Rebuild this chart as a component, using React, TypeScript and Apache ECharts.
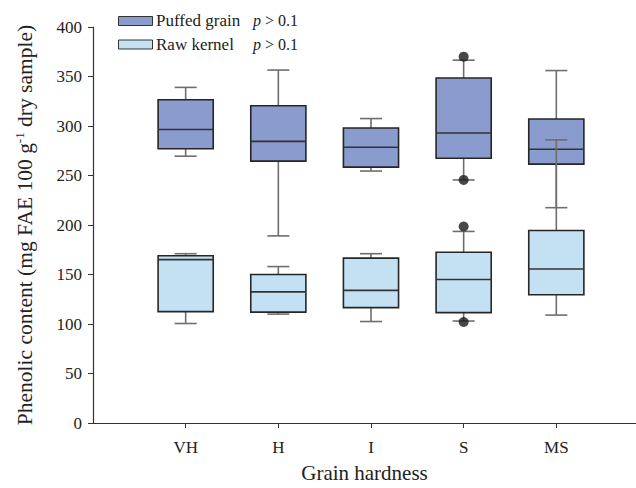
import React, { useEffect, useRef } from "react";
import * as echarts from "echarts";

// ---- data ----
const categories = ["VH", "H", "I", "S", "MS"];
const seriesNames = ["Puffed grain", "Raw kernel"];
const pValues = ["> 0.1", "> 0.1"];
// [lowerWhisker, Q1, median, Q3, upperWhisker]
const puffedStats = [
  [269.5, 277, 296.5, 326.5, 339],
  [189, 264.5, 284.5, 320.5, 356.5],
  [254.5, 258.5, 278.5, 298, 307.5],
  [245.5, 267.5, 293, 348.5, 366.5],
  [217.5, 261.5, 276.5, 307, 356],
];
const rawStats = [
  [100.5, 112.5, 165, 169, 171],
  [110, 112, 132.5, 150, 158],
  [102.5, 116.5, 134, 166.5, 171],
  [103, 111.5, 145, 172.5, 193.5],
  [109, 129.5, 155.5, 194.5, 286],
];
// outliers: [categoryIndex, value]
const outliers = [
  [3, 370],
  [3, 245.5],
  [3, 198.5],
  [3, 102],
];
const yTicks = { min: 0, max: 400, interval: 50 };

const FONT = "Liberation Serif";
const PUFFED_FILL = "#8a9bce";
const RAW_FILL = "#c4e1f3";
const BOX_W = 0.595;

function boxRenderer() {
  return (params: any, api: any) => {
    const xv = api.value(0);
    const lw = api.value(1);
    const q1 = api.value(2);
    const med = api.value(3);
    const q3 = api.value(4);
    const uw = api.value(5);
    const cx = api.coord([xv, 0])[0];
    const yOf = (v: number) => api.coord([xv, v])[1];
    const half = api.size([BOX_W, 0])[0] / 2;
    const cap = half * 0.4;
    const fill = api.visual("color");
    const wStyle = { stroke: "#6e6e6e", lineWidth: 1.6 };
    const bStyle = { stroke: "#262626", lineWidth: 1.6 };
    return {
      type: "group",
      children: [
        { type: "line", shape: { x1: cx, y1: yOf(q3), x2: cx, y2: yOf(uw) }, style: wStyle },
        { type: "line", shape: { x1: cx, y1: yOf(q1), x2: cx, y2: yOf(lw) }, style: wStyle },
        { type: "line", shape: { x1: cx - cap, y1: yOf(uw), x2: cx + cap, y2: yOf(uw) }, style: wStyle },
        { type: "line", shape: { x1: cx - cap, y1: yOf(lw), x2: cx + cap, y2: yOf(lw) }, style: wStyle },
        {
          type: "rect",
          shape: { x: cx - half, y: yOf(q3), width: half * 2, height: yOf(q1) - yOf(q3) },
          style: { fill, ...bStyle },
        },
        { type: "line", shape: { x1: cx - half, y1: yOf(med), x2: cx + half, y2: yOf(med) }, style: { stroke: "#333", lineWidth: 1.6 } },
      ],
    };
  };
}

export default function App() {
  const ref = useRef<HTMLDivElement>(null);
  useEffect(() => {
    document.body.style.margin = "0";
    const chart = echarts.init(ref.current!, null, { renderer: "svg" });
    const toData = (stats: number[][]) => stats.map((s, i) => [i + 1, ...s]);
    const legendY = [20.5, 44];
    const fills = [PUFFED_FILL, RAW_FILL];
    const graphic: any[] = [];
    seriesNames.forEach((name, i) => {
      graphic.push({
        type: "rect",
        left: 118,
        top: legendY[i] - 4.5,
        shape: { x: 0, y: 0, width: 34, height: 9 },
        style: { fill: fills[i], stroke: "#333", lineWidth: 1 },
      });
      graphic.push({
        type: "text",
        x: 156,
        y: legendY[i],
        style: { text: name, fontFamily: FONT, fontSize: 17, fill: "#222", verticalAlign: "middle" },
      });
      graphic.push({
        type: "text",
        x: 253,
        y: legendY[i],
        style: {
          text: `{i|p} {t|${pValues[i]}}`,
          fontFamily: FONT,
          fontSize: 16,
          fill: "#222",
          verticalAlign: "middle",
          rich: {
            i: { fontStyle: "italic", fontFamily: FONT, fontSize: 16, fill: "#222" },
            t: { fontFamily: FONT, fontSize: 16, fill: "#222" },
          },
        },
      });
    });
    chart.setOption({
      animation: false,
      textStyle: { fontFamily: FONT },
      grid: { left: 93, right: 0, top: 27, bottom: 61 },
      xAxis: {
        type: "value",
        min: 0,
        max: 5.86,
        splitLine: { show: false },
        axisLine: { show: true, lineStyle: { color: "#333", width: 1.2 } },
        axisTick: { show: true, customValues: [1, 2, 3, 4, 5], length: 5, lineStyle: { color: "#333" } },
        axisLabel: {
          customValues: [1, 2, 3, 4, 5],
          formatter: (v: number) => categories[Math.round(v) - 1] ?? "",
          fontFamily: FONT,
          fontSize: 17,
          color: "#222",
          margin: 16,
        },
        name: "Grain hardness",
        nameLocation: "middle",
        nameGap: 39,
        nameTextStyle: { fontFamily: FONT, fontSize: 21, color: "#222" },
      },
      yAxis: {
        type: "value",
        min: yTicks.min,
        max: yTicks.max,
        interval: yTicks.interval,
        splitLine: { show: false },
        axisLine: { show: true, lineStyle: { color: "#333", width: 1.2 } },
        axisTick: { show: true, length: 5, lineStyle: { color: "#333" } },
        axisLabel: { fontFamily: FONT, fontSize: 17, color: "#222", margin: 11 },
        name: "{n|Phenolic content (mg FAE 100 g}{s|-1}{n| dry sample)}",
        nameLocation: "middle",
        nameGap: 56,
        nameTextStyle: {
          fontFamily: FONT,
          fontSize: 21,
          color: "#222",
          rich: {
            n: { fontFamily: FONT, fontSize: 21.5, color: "#222", lineHeight: 24 },
            s: { fontFamily: FONT, fontSize: 13, color: "#222", lineHeight: 14, verticalAlign: "top" },
          },
        },
      },
      graphic,
      series: [
        {
          name: seriesNames[0],
          type: "custom",
          renderItem: boxRenderer(),
          itemStyle: { color: PUFFED_FILL },
          encode: { x: 0, y: [1, 2, 3, 4, 5] },
          data: toData(puffedStats),
          z: 2,
        },
        {
          name: seriesNames[1],
          type: "custom",
          renderItem: boxRenderer(),
          itemStyle: { color: RAW_FILL },
          encode: { x: 0, y: [1, 2, 3, 4, 5] },
          data: toData(rawStats),
          z: 3,
        },
        {
          name: "outliers",
          type: "scatter",
          symbol: "circle",
          symbolSize: 10,
          itemStyle: { color: "#1a1a1a" },
          data: outliers.map(([c, v]) => [c + 1, v]),
          z: 4,
        },
      ],
    });
    return () => chart.dispose();
  }, []);
  return <div ref={ref} style={{ width: 636, height: 488 }} />;
}
